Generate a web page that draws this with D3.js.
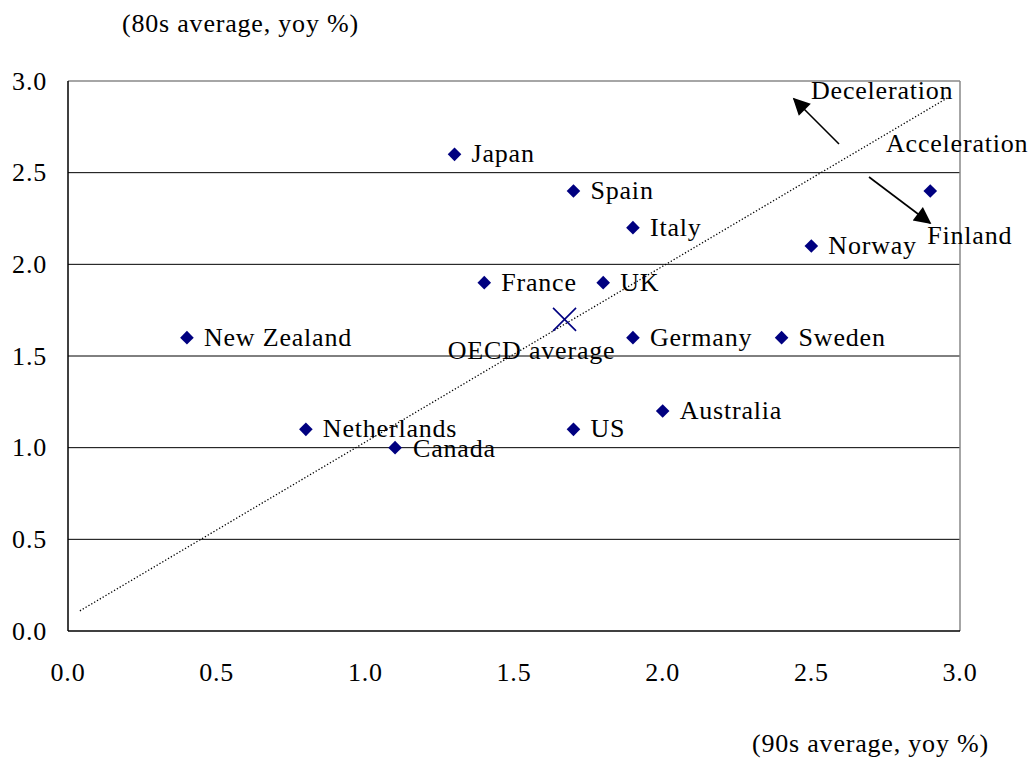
<!DOCTYPE html>
<html><head><meta charset="utf-8">
<script src="https://cdn.jsdelivr.net/npm/d3@7"></script>
<style>body{margin:0;background:#fff}svg{display:block}text{font-family:"Liberation Serif","Times New Roman",serif;fill:#000;letter-spacing:0.8px}</style>
</head><body>
<script>
const countries = ["Japan","Spain","Italy","France","UK","New Zealand","Germany","Sweden","Norway","Finland","Australia","US","Netherlands","Canada"];
const avg90s = [1.3,1.7,1.9,1.4,1.8,0.4,1.9,2.4,2.5,2.9,2.0,1.7,0.8,1.1];
const avg80s = [2.6,2.4,2.2,1.9,1.9,1.6,1.6,1.6,2.1,2.4,1.2,1.1,1.1,1.0];
const oecd = {name:"OECD average", x:1.67, y:1.70};
const trendX = [0.04, 2.96];
const trendY = [0.11, 2.91];
const xTicks = [0,0.5,1.0,1.5,2.0,2.5,3.0];
const yTicks = [0,0.5,1.0,1.5,2.0,2.5,3.0];

const W=1031,H=758;
const svg=d3.select("body").append("svg").attr("width",W).attr("height",H);
const x=d3.scaleLinear().domain([0,3]).range([68,960]);
const y=d3.scaleLinear().domain([0,3]).range([631,81]);
const fs=26;

// gridlines
svg.append("g").selectAll("line").data(yTicks.filter(d=>d>0&&d<3)).join("line")
 .attr("x1",x(0)).attr("x2",x(3)).attr("y1",d=>y(d)).attr("y2",d=>y(d)).attr("stroke","#000").attr("stroke-width",1);
// frame
svg.append("line").attr("x1",x(0)).attr("x2",x(3)).attr("y1",y(3)).attr("y2",y(3)).attr("stroke","#888").attr("stroke-width",1.5);
svg.append("line").attr("x1",x(3)).attr("x2",x(3)).attr("y1",y(3)).attr("y2",y(0)).attr("stroke","#888").attr("stroke-width",1.5);
svg.append("line").attr("x1",x(0)).attr("x2",x(0)).attr("y1",y(3)).attr("y2",y(0)).attr("stroke","#000").attr("stroke-width",1.5);
svg.append("line").attr("x1",x(0)).attr("x2",x(3)).attr("y1",y(0)).attr("y2",y(0)).attr("stroke","#000").attr("stroke-width",1.5);

// tick labels
svg.append("g").selectAll("text").data(yTicks).join("text")
 .attr("x",47).attr("y",d=>y(d)+8.5).attr("text-anchor","end").attr("font-size",fs).text(d=>d.toFixed(1));
svg.append("g").selectAll("text").data(xTicks).join("text")
 .attr("x",d=>x(d)).attr("y",681).attr("text-anchor","middle").attr("font-size",fs).text(d=>d.toFixed(1));

svg.append("text").attr("x",122).attr("y",32).attr("font-size",fs).text("(80s average, yoy %)");
svg.append("text").attr("x",752).attr("y",752).attr("font-size",fs).text("(90s average, yoy %)");

// trend line
svg.append("line").attr("x1",x(trendX[0])).attr("y1",y(trendY[0])).attr("x2",x(trendX[1])).attr("y2",y(trendY[1]))
 .attr("stroke","#000").attr("stroke-width",1.3).attr("stroke-dasharray","1.3,2");

// arrows
const defs=svg.append("defs");
defs.append("marker").attr("id","ah").attr("viewBox","0 0 10 10").attr("refX",9).attr("refY",5)
 .attr("markerWidth",21).attr("markerHeight",17).attr("markerUnits","userSpaceOnUse").attr("orient","auto")
 .append("path").attr("d","M0,0L10,5L0,10z").attr("fill","#000");
svg.append("line").attr("x1",839).attr("y1",144).attr("x2",794).attr("y2",99).attr("stroke","#000").attr("stroke-width",1.6).attr("marker-end","url(#ah)");
svg.append("line").attr("x1",869).attr("y1",177).attr("x2",930).attr("y2",223).attr("stroke","#000").attr("stroke-width",1.6).attr("marker-end","url(#ah)");
svg.append("text").attr("x",811).attr("y",99).attr("font-size",fs).text("Deceleration");
svg.append("text").attr("x",886).attr("y",152).attr("font-size",fs).text("Acceleration");

// points
const data=countries.map((c,i)=>({c,x:avg90s[i],y:avg80s[i]}));
svg.append("g").selectAll("path").data(data).join("path")
 .attr("transform",d=>`translate(${x(d.x)},${y(d.y)})`)
 .attr("d",d3.symbol(d3.symbolDiamond2,118)).attr("fill","#000080");
// labels
const off={Finland:[-3,53],Canada:[18,9]};
svg.append("g").selectAll("text").data(data).join("text")
 .attr("x",d=>x(d.x)+(off[d.c]?off[d.c][0]:17))
 .attr("y",d=>y(d.y)+(off[d.c]?off[d.c][1]:8))
 .attr("font-size",fs).text(d=>d.c);

// OECD cross
const cx=x(oecd.x),cy=y(oecd.y),r=11.5;
svg.append("path").attr("d",`M${cx-r},${cy-r}L${cx+r},${cy+r}M${cx-r},${cy+r}L${cx+r},${cy-r}`).attr("stroke","#000080").attr("stroke-width",1.6);
svg.append("text").attr("x",cx-33).attr("y",cy+40).attr("text-anchor","middle").attr("font-size",fs).text(oecd.name);
</script>
</body></html>
